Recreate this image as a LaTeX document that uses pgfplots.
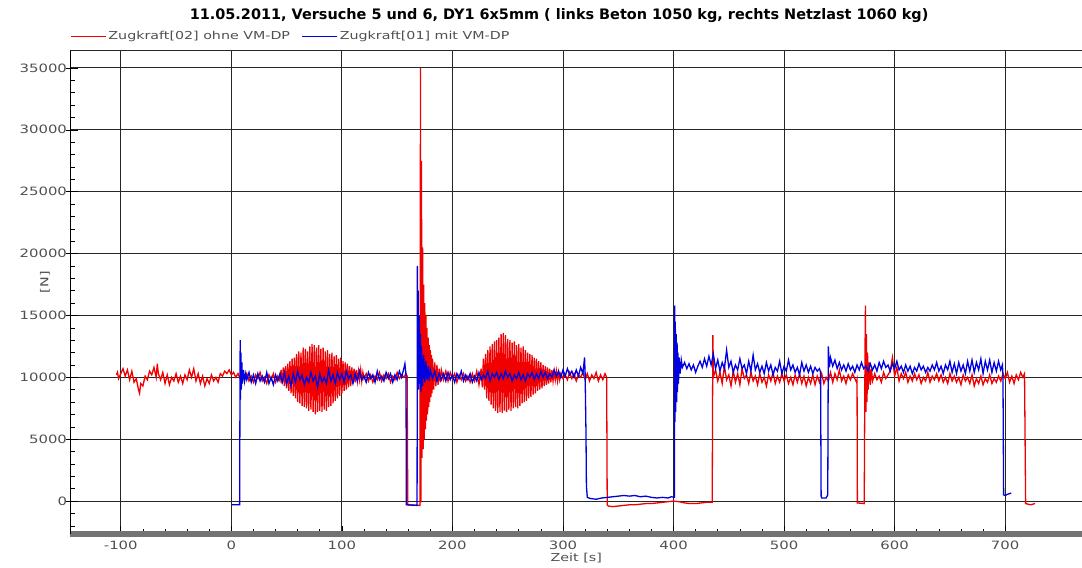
\documentclass[border=0pt]{standalone}
\usepackage{pgfplots}
\pgfplotsset{compat=1.18}
\usepackage{fontspec}
\setmainfont{DejaVu Sans}[FakeStretch=1.3]
\newfontfamily\titlefont{DejaVu Sans}
\definecolor{redline}{RGB}{240,0,0}
\definecolor{blueline}{RGB}{0,0,225}
\definecolor{labelgray}{RGB}{80,80,80}

\begin{document}
\begin{tikzpicture}
\useasboundingbox (-70.5bp,-34bp) rectangle (1011.5bp,534bp);
\begin{axis}[
  at={(0,0)}, anchor=south west,
  scale only axis, width=1011.5bp, height=484bp,
  xmin=-145.5, xmax=769.5, ymin=-2660, ymax=36450,
  axis lines*=left,
  x axis line style={-, draw=black!55, line width=5bp},
  y axis line style={-, draw=black, line width=0.8bp},
  xtick={-100,0,...,700}, ytick={-5000,0,...,35000},
  scaled y ticks=false,
  minor x tick num=4, minor y tick num=4,
  tick align=inside, major tick length=8bp, minor tick length=5bp,
  tick style={black, line width=0.6bp},
  extra y ticks={0,5000,...,35000}, extra y tick labels={},
  extra y tick style={grid=none, tick align=outside, major tick length=4bp},
  grid=major, major grid style={black!85, line width=0.9bp},
  tick label style={font=\fontsize{11.5}{13}\selectfont, text=labelgray},
  xticklabel style={yshift=-3bp},
  /pgf/number format/assume math mode=true,
  /pgf/number format/set thousands separator={},
  title={\titlefont\bfseries 11.05.2011, Versuche 5 und 6, DY1 6x5mm ( links Beton 1050 kg, rechts Netzlast 1060 kg)},
  every axis title/.style={at={(rel axis cs:0.483,1)}, anchor=center, yshift=34bp, font=\fontsize{14.5}{16}\selectfont},
  xlabel={Zeit [s]},
  every axis x label/.style={at={(rel axis cs:0.5,0)}, anchor=center, yshift=-24bp, font=\fontsize{11}{13}\selectfont, text=labelgray},
  ylabel={[N]},
  every axis y label/.style={at={(rel axis cs:0,0.52)}, rotate=90, anchor=center, yshift=25.5bp, font=\fontsize{11}{13}\selectfont, text=labelgray},
  legend style={at={(0,1)}, anchor=west, yshift=14bp, draw=none, fill=none, inner sep=0pt,
    font=\fontsize{11}{13}\selectfont, text=labelgray, legend columns=2,
    /tikz/every even column/.append style={column sep=10bp}},
  legend image code/.code={\draw[#1, line width=0.8bp] (0bp,0bp) -- (35bp,0bp);},
]
% Zugkraft[02] ohne VM-DP
\addplot[redline, line width=1.3bp] coordinates {
(-104,10200) (-103,10400) (-102,9900) (-100,10300) (-98,10700) (-96,10100) (-94,10600) (-92,9800) (-90,10500) (-88,9600)
(-86,9900) (-84,9000) (-83,8700) (-82,9500) (-80,9300) (-78,10100) (-76,9800) (-74,10500) (-72,10200) (-70,10800)
(-68,10000) (-67,11100) (-66,10300) (-64,9800) (-62,10400) (-60,9500) (-58,10200) (-56,9400) (-54,10000) (-52,9700)
(-50,10300) (-48,9600) (-46,10100) (-44,9500) (-42,10200) (-40,9800) (-38,10600) (-36,10000) (-34,10700) (-32,9700)
(-30,10300) (-28,9500) (-26,10100) (-24,9300) (-22,9900) (-20,9500) (-18,10200) (-16,9700) (-14,10000) (-12,9600)
(-10,10300) (-8,10100) (-6,10500) (-4,10300) (-2,10600) (0,10200) (2,10400) (4,10000) (6,10300) (8,9900) (10,10100)
(12,9800) (14,10300) (16,9700) (18,10100) (20,9600) (22,10200) (24,9900) (26,10400) (28,9700) (30,10000)
(32,9500) (34,10200) (36,9800) (38,10300) (40,9600) (42,10100) (44,9700)
(45,10600) (46,9500) (47,10800) (48,9300) (49,10900) (50,9100) (51,11100) (52,8900) (53,11300) (54,8700)
(55,11500) (56,8500) (57,11600) (58,8300) (59,11900) (60,8000) (61,12100) (62,7900) (63,12000) (64,7700)
(65,12400) (66,7600) (67,12300) (68,7500) (69,12100) (70,7300) (71,12500) (72,7400) (73,12700) (74,7200)
(75,12600) (76,7000) (77,12400) (78,7200) (79,12600) (80,7300) (81,12300) (82,7200) (83,12400) (84,7400)
(85,12100) (86,7300) (87,12200) (88,7600) (89,11900) (90,7700) (91,12000) (92,7900) (93,11700) (94,8100)
(95,11800) (96,8300) (97,11500) (98,8500) (99,11600) (100,8700) (101,11300) (102,8900) (103,11200) (104,9000)
(105,11100) (106,9200) (107,10900) (108,9300) (109,10800) (110,9500) (111,10700) (112,9600) (113,10600) (114,9700)
(115,10500) (116,9800) (117,10600) (118,9700) (119,10400) (120,9900)
(122,10300) (124,9700) (126,10200) (128,9600) (130,10100) (132,9800) (134,10400) (136,9700) (138,10200) (140,9900)
(142,10300) (144,9600) (146,10100) (148,9800) (150,10400) (152,9900) (154,10200) (156,10000) (158,10300) (159,10100)
(159.6,-300) (170.6,-350) (171.1,35000) (171.5,-100) (172,27500) (172.5,3500) (173,20500) (173.5,4200) (174,17500) (174.5,5000)
(175,16000) (175.5,5800) (176,15000) (176.5,6500) (177,14000) (177.5,7000) (178,13200) (178.5,7600) (179,12600) (179.5,8000)
(180,12200) (180.5,8400) (181,11800) (181.5,8700) (182,11500) (183,9000) (184,11200) (185,9300) (186,11000) (187,9400)
(188,10700) (189,9600) (190,10600) (192,9800) (194,10500) (196,9700) (198,10400) (200,9900) (202,10300) (204,9600)
(206,10200) (208,9800) (210,10300) (212,9700) (214,10100)
(216,9600) (218,10300) (220,9700) (222,10500) (224,9400) (226,10700) (227,9200) (228,11500) (229,9000) (230,11900)
(231,8300) (232,12200) (233,8100) (234,12500) (235,7800) (236,12700) (237,7500) (238,12900) (239,7300) (240,13000)
(241,7100) (242,13200) (243,7200) (244,13500) (245,7100) (246,13600) (247,7300) (248,13400) (249,7200) (250,13100)
(251,7400) (252,13000) (253,7300) (254,12800) (255,7500) (256,12900) (257,7600) (258,12600) (259,7500) (260,12700)
(261,7700) (262,12400) (263,7900) (264,12500) (265,8000) (266,12200) (267,8100) (268,12000) (269,8300) (270,11900)
(271,8400) (272,11800) (273,8600) (274,11600) (275,8700) (276,11500) (277,8900) (278,11300) (279,9000) (280,11200)
(281,9100) (282,11000) (283,9300) (284,10900) (285,9400) (286,10800) (287,9500) (288,10700) (289,9600) (290,10600)
(291,9700) (292,10500) (293,9800) (294,10500) (295,9700) (296,10400) (297,9800) (298,10300) (300,9900)
(302,10200) (304,9800) (306,10400) (308,9900) (310,10300) (312,9700) (314,10200) (316,10000) (318,10400) (320,9800)
(322,10300) (324,9700) (326,10200) (328,9900) (330,10400) (332,9700) (334,10200) (336,9800) (338,10300) (339.5,10000)
(340,-300) (341,-400) (345,-450) (350,-400) (355,-350) (360,-300) (365,-300) (370,-250) (375,-200) (380,-200)
(385,-150) (390,-100) (395,-50) (400,0) (405,-50) (410,-150) (415,-200) (420,-200) (425,-150) (430,-100)
(435,-100) (435.3,8000) (435.6,13400) (436,10000)
(438,10600) (440,9700) (442,10400) (444,9500) (446,10900) (448,9800) (450,10200) (452,9300) (454,10500) (456,9600)
(458,10300) (460,9400) (462,10700) (464,9900) (466,10200) (468,9500) (470,10400) (472,9700) (474,10100) (476,9400)
(478,10300) (480,9600) (482,10000) (484,9300) (486,10200) (488,9700) (490,10400) (492,9500) (494,10100) (496,9600)
(498,10300) (500,9700) (502,10200) (504,9500) (506,10000) (508,9400) (510,10200) (512,9600) (514,10300) (516,9500)
(518,10100) (520,9300) (522,10000) (524,9500) (526,10200) (528,9400) (530,10100) (532,9600) (534,10300) (536,9500)
(538,10000) (540,9700) (542,10400) (544,9600) (546,10300) (548,9800) (550,10600) (552,9700) (554,10100) (556,9500)
(558,10200) (560,9800) (562,10300) (564,9900) (565.5,9600)
(566,9800) (566.3,-150) (572.5,-200) (573.2,12000) (573.6,15800) (574,7200) (574.5,13500) (575,8000) (575.5,12000) (576,9000)
(577,11200) (578,9400) (579,10700) (580,9700)
(582,10300) (584,9800) (586,10100) (588,9600) (590,10400) (592,9900) (594,10200) (596,10500) (598,11600) (600,10100)
(602,10800) (604,9700) (606,10300) (608,9900) (610,10400) (612,9600) (614,10100) (616,9700) (618,10300) (620,9800)
(622,10200) (624,9500) (626,10000) (628,9700) (630,10400) (632,9600) (634,10100) (636,9800) (638,10300) (640,9700)
(642,10200) (644,9600) (646,10000) (648,9500) (650,10300) (652,9700) (654,10100) (656,9600) (658,10000) (660,9400)
(662,10200) (664,9700) (666,10000) (668,9500) (670,10200) (672,9300) (674,9900) (676,9500) (678,10100) (680,9400)
(682,9900) (684,9600) (686,10200) (688,9500) (690,9900) (692,9600) (694,10100) (696,9700) (698,10300) (700,9900)
(702,10400) (704,9600) (706,10100) (708,9500) (710,10200) (712,9800) (714,10400) (716,10000) (717.5,10300) (718.5,-200)
(723,-300) (727,-200)
};
\addlegendentry{Zugkraft[02] ohne VM-DP}
% Zugkraft[01] mit VM-DP
\addplot[blueline, line width=1.3bp] coordinates {
(0.5,-300) (7.5,-300) (7.8,8300) (8,13000) (8.3,8200) (8.6,12000) (9,9000) (9.5,11200) (10,9500) (11,10600)
(12,9700) (13,10300)
(14,9800) (16,10400) (18,9600) (20,10200) (22,9500) (24,10300) (26,9700) (28,10100) (30,9600) (32,10400)
(34,9500) (36,10000) (38,9400) (40,10200) (42,9700) (44,10300) (46,9600) (48,10400) (50,9500) (52,10100)
(54,9300) (56,10300) (58,9600) (60,10500) (62,9800) (64,10200) (66,9400) (68,10000) (70,9600) (72,10400)
(74,9700) (76,10100) (78,9200) (80,10300) (82,9600) (84,10000) (86,9500) (88,10600) (90,9700) (92,10200)
(94,9500) (96,10400) (98,9800) (100,10300) (102,9600) (104,10500) (106,9900) (108,10200) (110,9500) (112,10300)
(114,9700) (116,10500) (118,9800) (120,10100) (122,9600) (124,10400) (126,9900) (128,10200) (130,9600) (132,10500)
(134,9800) (136,10100) (138,9700) (140,10400) (142,9900) (144,10300) (146,9600) (148,10200) (150,9800) (152,10500)
(154,10000) (156,10700) (157,11100) (158,10200)
(158.3,-300) (168,-350) (168.3,19000) (168.6,10000) (169,17000) (169.5,9000) (170,15000) (170.5,9500) (171,13500) (171.5,8800)
(172,12500) (173,9300) (174,11800) (175,9600) (176,11300) (177,9800) (178,10900) (179,9700) (180,10600) (182,9900)
(184,10500) (186,9700) (188,10300) (190,9800)
(192,10300) (194,9700) (196,10400) (198,9800) (200,10200) (202,9600) (204,10300) (206,9900) (208,10500) (210,9700)
(212,10200) (214,9800) (216,10300) (218,9600) (220,10100) (222,9700) (224,10400) (226,9800) (228,10200) (230,9900)
(232,10500) (234,9700) (236,10300) (238,10000) (240,10400) (242,9800) (244,10300) (246,9900) (248,10500) (250,10000)
(252,10300) (254,9700) (256,10200) (258,9900) (260,10400) (262,9800) (264,10200) (266,9700) (268,10300) (270,10000)
(272,10400) (274,9800) (276,10300) (278,9900) (280,10500) (282,10000) (284,10400) (286,9900) (288,10300) (290,10000)
(292,10600) (294,10100) (296,10500) (298,10000) (300,10600) (302,10100) (304,10700) (306,10200) (308,10500) (310,10000)
(312,10600) (314,10100) (316,10800) (318,10300) (319.5,11600) (320,10400)
(320.8,5500) (321.2,1200) (322,300) (325,200) (330,150) (335,250) (340,300) (345,350) (350,400) (355,450)
(360,400) (365,450) (370,350) (375,400) (380,300) (385,250) (390,300) (395,250) (398,350) (400.8,300)
(401,15800) (401.3,6400) (401.6,14500) (402,7200) (402.4,13500) (402.8,8000) (403.2,12800) (403.6,8800) (404,12000) (404.5,9500)
(405,11600) (406,10300) (407,11400) (408,10800) (410,11200) (412,10700) (414,11100) (416,10600) (418,11000) (420,10400)
(422,10900) (424,11300) (426,10800) (428,11500) (430,10900) (432,11700) (434,11000) (436,11900) (438,10700) (440,11400)
(442,10500) (444,11200) (446,10700) (448,12200) (450,10800) (452,11300) (454,10400) (456,11000) (458,10600) (460,11500)
(462,10700) (464,11000) (466,10300) (468,11300) (470,10500) (472,11800) (474,10600) (476,11100) (478,10400) (480,10900)
(482,10300) (484,11200) (486,10500) (488,11000) (490,10200) (492,10800) (494,10500) (496,11300) (498,10300) (500,10900)
(502,10500) (504,11400) (506,10600) (508,11000) (510,10400) (512,10800) (514,10200) (516,11200) (518,10500) (520,11000)
(522,10400) (524,10900) (526,10300) (528,10800) (530,10500) (532,10700) (533,10400)
(533.5,400) (534,250) (538,250) (539.5,500) (540,12500) (541,10800) (542,11600) (544,10900) (546,11400) (548,10700)
(550,11200) (552,10600) (554,11000) (556,10500) (558,11100) (560,10600) (562,10900) (564,10400) (566,11000) (568,10600)
(570,11200) (572,10700) (574,10900) (576,10500) (578,11100) (580,10600) (582,11000) (584,10500) (586,11200) (588,10700)
(590,11300) (592,10800) (594,11000) (596,10500) (598,11100) (600,10700) (602,11300) (604,10600) (606,10900) (608,10400)
(610,11000) (612,10500) (614,10900) (616,10300) (618,10800) (620,10500) (622,11100) (624,10600) (626,10900) (628,10400)
(630,10800) (632,10500) (634,11000) (636,10600) (638,11200) (640,10500) (642,10900) (644,10300) (646,11000) (648,10600)
(650,11300) (652,10400) (654,11100) (656,10300) (658,11200) (660,10500) (662,11000) (664,10300) (666,11300) (668,10500)
(670,11400) (672,10400) (674,11200) (676,10600) (678,11500) (680,10300) (682,11300) (684,10600) (686,11400) (688,10400)
(690,11200) (692,10500) (694,11300) (696,10600) (697.5,11000) (698,10200) (698.3,5000) (698.6,500) (700,450) (702,550)
(704,600) (705.5,650)
};
\addlegendentry{Zugkraft[01] mit VM-DP}
\draw[black!85, line width=0.9bp] (rel axis cs:0,1) -- (rel axis cs:1,1);
\end{axis}
\end{tikzpicture}
\end{document}
